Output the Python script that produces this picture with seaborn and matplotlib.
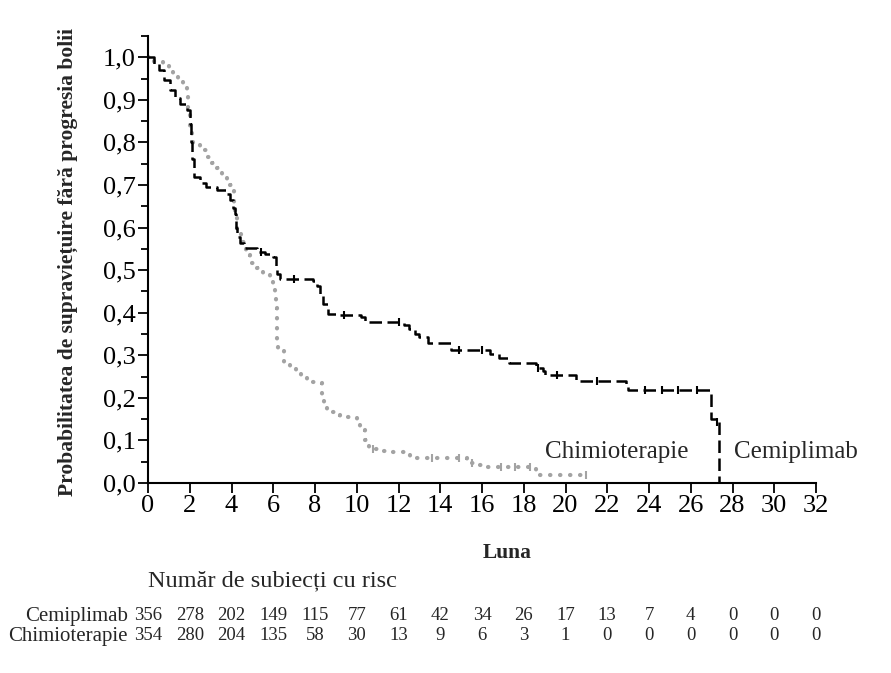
import numpy as np
import pandas as pd
import matplotlib
matplotlib.use('Agg')
import matplotlib.pyplot as plt
import seaborn as sns
from matplotlib.ticker import MultipleLocator, FuncFormatter

# Kaplan-Meier steps (month, survival probability)
cem_t = [0, 0.3, 0.55, 0.75, 1.05, 1.3, 1.55, 1.85, 2.0, 2.08, 2.13, 2.18, 2.5, 2.8, 3.3,
         3.78, 3.93, 4.05, 4.17, 4.22, 4.27, 4.4, 4.6, 5.2, 5.6, 6.0, 6.12, 6.2, 6.33, 7.9,
         8.1, 8.25, 8.4, 8.6, 9.0, 10.2, 10.4, 12.25, 12.5, 12.8, 13.0, 13.4, 14.5, 16.4,
         16.8, 17.3, 18.6, 18.9, 19.0, 20.5, 22.9, 23.0, 26.95, 27.2, 27.35]
cem_s = [1.0, 0.985, 0.969, 0.946, 0.923, 0.905, 0.891, 0.876, 0.844, 0.80, 0.76, 0.719, 0.705,
         0.696, 0.688, 0.680, 0.664, 0.645, 0.633, 0.60, 0.578, 0.563, 0.551, 0.543, 0.538,
         0.530, 0.51, 0.492, 0.480, 0.474, 0.462, 0.44, 0.42, 0.398, 0.395, 0.390, 0.379,
         0.372, 0.362, 0.350, 0.343, 0.328, 0.312, 0.304, 0.294, 0.281, 0.27, 0.262, 0.254,
         0.239, 0.228, 0.218, 0.15, 0.144, 0.0]

chemo_t = [0, 0.3, 0.74, 1.0, 1.2, 1.45, 1.7, 1.86, 1.93, 2.0, 2.1, 2.17, 2.5, 2.8, 3.05, 3.3,
           3.55, 3.78, 3.95, 4.0, 4.1, 4.17, 4.26, 4.45, 4.7, 4.9, 5.2, 5.5, 5.85, 6.0, 6.1,
           6.15, 6.18, 6.2, 6.25, 6.5, 6.8, 7.1, 7.35, 7.6, 8.1, 8.33, 8.45, 8.57, 8.9, 9.2,
           10.0, 10.15, 10.25, 10.4, 10.57, 11.0, 11.6, 12.57, 15.3, 15.7, 16.1, 18.6, 21.0]
chemo_s = [1.0, 0.99, 0.981, 0.97, 0.958, 0.945, 0.930, 0.915, 0.88, 0.836, 0.81, 0.797, 0.782,
           0.766, 0.752, 0.739, 0.727, 0.715, 0.70, 0.688, 0.66, 0.633, 0.594, 0.565, 0.535,
           0.516, 0.505, 0.49, 0.477, 0.46, 0.445, 0.41, 0.390, 0.336, 0.312, 0.285, 0.272,
           0.258, 0.248, 0.238, 0.234, 0.203, 0.185, 0.167, 0.16, 0.156, 0.144, 0.135, 0.124,
           0.10, 0.081, 0.076, 0.072, 0.058, 0.046, 0.042, 0.038, 0.019, 0.019]

# censoring ticks (months)
cem_cens = [5.4, 7.0, 9.4, 12.0, 14.9, 16.0, 18.7, 19.6, 21.5, 23.8, 24.6, 25.4, 26.3, 27.25]
chemo_cens = [10.8, 13.6, 14.9, 15.5, 16.9, 17.6, 18.3, 21.0]

months = list(range(0, 33, 2))
risk_cem = [356, 278, 202, 149, 115, 77, 61, 42, 34, 26, 17, 13, 7, 4, 0, 0, 0]
risk_chemo = [354, 280, 204, 135, 58, 30, 13, 9, 6, 3, 1, 0, 0, 0, 0, 0, 0]

CEM_COL = 'black'
CHEMO_COL = '#a3a3a3'

sns.set_style('ticks')
plt.rcParams['font.family'] = ['Liberation Serif', 'DejaVu Serif']

fig = plt.figure(figsize=(8.91, 6.73), dpi=100)
ax = fig.add_axes([148 / 891, (673 - 483) / 673, (816 - 148) / 891, (483 - 36) / 673])

df_cem = pd.DataFrame({'t': cem_t, 's': cem_s})
df_chemo = pd.DataFrame({'t': chemo_t, 's': chemo_s})

sns.lineplot(data=df_chemo, x='t', y='s', ax=ax, estimator=None, sort=False,
             drawstyle='steps-post', color=CHEMO_COL, lw=3.0,
             linestyle=(0, (0.1, 2.3)), dash_capstyle='round', solid_capstyle='round')
sns.lineplot(data=df_cem, x='t', y='s', ax=ax, estimator=None, sort=False,
             drawstyle='steps-post', color=CEM_COL, lw=1.8, linestyle=(0, (5, 2.2)))


def step_val(ts, ss, x):
    i = np.searchsorted(ts, x, side='right') - 1
    return ss[i]


cem_cy = [step_val(cem_t, cem_s, x) for x in cem_cens]
chemo_cy = [step_val(chemo_t, chemo_s, x) for x in chemo_cens]
sns.scatterplot(x=cem_cens, y=cem_cy, ax=ax, marker='|', s=30, linewidth=1.5,
                color=CEM_COL, zorder=3)
sns.scatterplot(x=chemo_cens, y=chemo_cy, ax=ax, marker='|', s=30, linewidth=1.5,
                color=CHEMO_COL, zorder=3)

ax.set_xlim(0, 32)
ax.set_ylim(0, 1.05)
ax.set_xticks(months)
ax.yaxis.set_major_locator(MultipleLocator(0.1))
ax.yaxis.set_minor_locator(MultipleLocator(0.05))
ax.yaxis.set_major_formatter(FuncFormatter(lambda v, p: f'{v:.1f}'.replace('.', ',')))
ax.tick_params(axis='both', which='major', labelsize=19, length=7, width=1.3, color='black',
               labelcolor='black', pad=2)
ax.tick_params(axis='y', which='minor', length=5, width=1.3, color='black')
for sp in ['left', 'bottom']:
    ax.spines[sp].set_linewidth(1.5)
    ax.spines[sp].set_color('black')
sns.despine(ax=ax)
ax.set_xlabel('')
ax.set_ylabel('')

fig.text(68 / 891, 1 - 262 / 673, 'Probabilitatea de supraviețuire fără progresia bolii',
         rotation=90, ha='center', va='center', fontsize=15.5, fontweight='bold')
fig.text(507 / 891, 1 - 553 / 673, 'Luna', ha='center', va='center', fontsize=15.5,
         fontweight='bold')

ax.text(19.04, 0.073, 'Chimioterapie', ha='left', va='center', fontsize=18)
ax.text(28.05, 0.073, 'Cemiplimab', ha='left', va='center', fontsize=18, clip_on=False)

# risk table
fig.text(148 / 891, 1 - 581 / 673, 'Număr de subiecți cu risc', ha='left', va='center',
         fontsize=17.5)
y_cem = 1 - 616 / 673
y_chemo = 1 - 636 / 673
fig.text(128 / 891, y_cem, 'Cemiplimab', ha='right', va='center', fontsize=15)
fig.text(128 / 891, y_chemo, 'Chimioterapie', ha='right', va='center', fontsize=15)
for m, a, b in zip(months, risk_cem, risk_chemo):
    xf = (fig.transFigure.inverted().transform(ax.transData.transform((m, 0))))[0]
    fig.text(xf, y_cem, str(a), ha='center', va='center', fontsize=13.5)
    fig.text(xf, y_chemo, str(b), ha='center', va='center', fontsize=13.5)

fig.savefig('out.png', dpi=100)
